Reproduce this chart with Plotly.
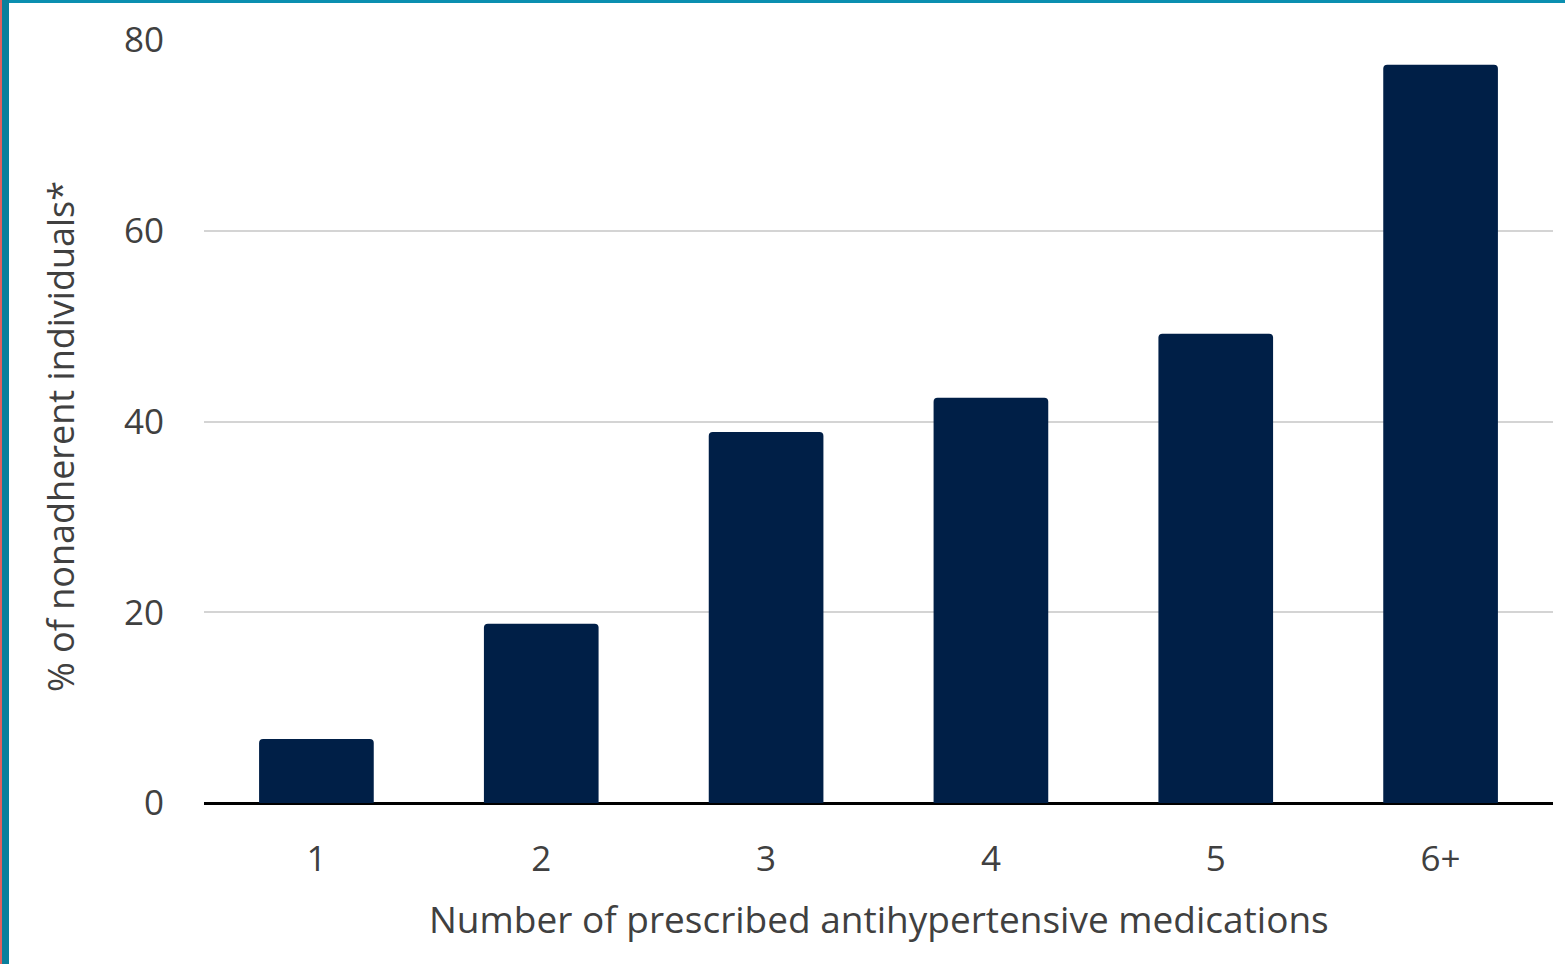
import plotly.graph_objects as go

# Share of nonadherent individuals by number of prescribed antihypertensive medications
categories = ["1", "2", "3", "4", "5", "6+"]
pct_nonadherent = [6.7, 18.8, 38.9, 42.5, 49.2, 77.4]
y_ticks = [0, 20, 40, 60, 80]

W, H = 1565, 964
L, R, T, B = 204, 12, 40, 161
PW, PH = W - L - R, H - T - B

def px_x(x):
    return (x - L) / PW

def px_y(y):
    return 1 - (y - T) / PH

FONT = "Open Sans"
TXT = "#404040"

fig = go.Figure(
    go.Bar(
        x=categories,
        y=pct_nonadherent,
        marker=dict(color="#001f47", line=dict(width=0)),
        hoverinfo="x+y",
    )
)

fig.update_layout(
    width=W,
    height=H,
    margin=dict(l=L, r=R, t=T, b=B),
    paper_bgcolor="white",
    plot_bgcolor="white",
    bargap=0.49,
    barcornerradius=4,
    showlegend=False,
    font=dict(family=FONT, color=TXT),
    xaxis=dict(
        showgrid=False,
        showline=False,
        ticks="",
        tickfont=dict(size=35, color=TXT),
        ticklabelstandoff=32,
    ),
    yaxis=dict(
        range=[0, 80],
        tickvals=y_ticks,
        showgrid=True,
        gridcolor="#d4d4d4",
        gridwidth=1.5,
        zeroline=True,
        zerolinecolor="#000000",
        zerolinewidth=2.5,
        showline=False,
        ticks="",
        tickfont=dict(size=35, color=TXT),
        ticklabelstandoff=39,
    ),
    annotations=[
        dict(text="Number of prescribed antihypertensive medications",
             xref="paper", yref="paper", x=px_x(879), y=px_y(918),
             xanchor="center", yanchor="middle", showarrow=False,
             font=dict(size=37, color=TXT, family=FONT)),
        dict(text="% of nonadherent individuals*",
             xref="paper", yref="paper", x=px_x(60), y=px_y(437),
             xanchor="center", yanchor="middle", showarrow=False, textangle=-90,
             font=dict(size=36, color=TXT, family=FONT)),
    ],
    shapes=[
        # teal frame along the top edge
        dict(type="rect", xref="paper", yref="paper",
             x0=px_x(0), x1=px_x(W), y0=px_y(3), y1=px_y(0),
             fillcolor="#0b8fb0", line=dict(width=0), layer="above"),
        # teal frame along the left edge
        dict(type="rect", xref="paper", yref="paper",
             x0=px_x(0), x1=px_x(9), y0=px_y(H), y1=px_y(0),
             fillcolor="#0a7f9c", line=dict(width=0), layer="above"),
        # thin red accent at the very left
        dict(type="rect", xref="paper", yref="paper",
             x0=px_x(0), x1=px_x(2), y0=px_y(H), y1=px_y(0),
             fillcolor="#e2605e", line=dict(width=0), layer="above"),
    ],
)

fig.write_html("out.html")
